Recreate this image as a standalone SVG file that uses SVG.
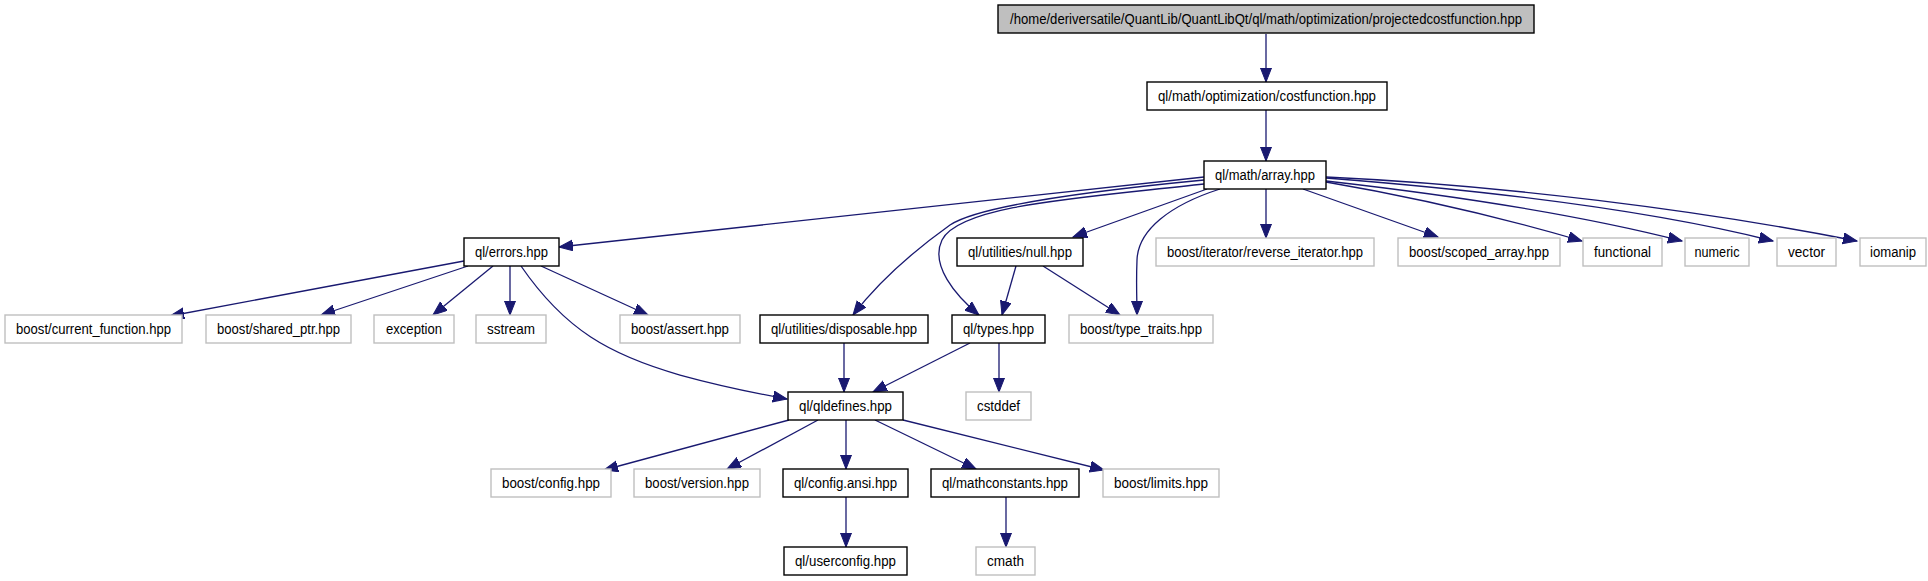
<svg xmlns="http://www.w3.org/2000/svg" width="1928" height="581" viewBox="0 0 1928 581">
<style>
.n rect{fill:#fff;stroke:#000;stroke-width:1.4}
.g rect{fill:#fff;stroke:#bfbfbf;stroke-width:1.4}
.top rect{fill:#bfbfbf;stroke:#000;stroke-width:1.4}
text{font-family:"Liberation Sans",Arial,sans-serif;font-size:14px;fill:#000;text-anchor:middle}
#edges path{fill:none;stroke:#191970;stroke-width:1.3;marker-end:url(#arr)}
</style>
<defs>
<marker id="arr" markerUnits="userSpaceOnUse" markerWidth="16" markerHeight="13" refX="14" refY="5.5" orient="auto">
<path d="M0,0 L14,5.5 L0,11 z" fill="#191970" stroke="#191970" stroke-width="1"/>
</marker>
</defs>
<rect width="1928" height="581" fill="#fff"/>
<g id="edges">
<path d="M1266,34 L1266,82"/>
<path d="M1266,110 L1266,161"/>
<path d="M1204,177 L559,247"/>
<path d="M1204,180 C1100,190 980,205 950,225 C915,250 880,280 853,315"/>
<path d="M1207,189 L1073,237"/>
<path d="M1204,184 C1080,198 960,205 942,240 C930,265 955,295 979,315"/>
<path d="M1220,189 C1170,205 1138,230 1137,260 C1136,285 1137,300 1137,315"/>
<path d="M1266,189 L1266,238"/>
<path d="M1303,189 L1438,237"/>
<path d="M1326,182 C1420,198 1510,220 1582,241"/>
<path d="M1326,181 C1450,195 1580,215 1682,241"/>
<path d="M1326,178 C1480,190 1650,210 1773,241"/>
<path d="M1326,177 C1500,185 1700,210 1857,241"/>
<path d="M464,261 L170,316"/>
<path d="M468,266 L321,315"/>
<path d="M493,266 L433,315"/>
<path d="M510,266 L510,315"/>
<path d="M541,266 L648,315"/>
<path d="M521,266 C565,330 610,355 680,375 C720,386 760,394 787,399"/>
<path d="M1016,266 L1002,315"/>
<path d="M1043,266 L1120,315"/>
<path d="M844,343 L844,392"/>
<path d="M970,343 L873,392"/>
<path d="M999,343 L999,392"/>
<path d="M789,420 L604,470"/>
<path d="M818,420 L727,469"/>
<path d="M846,420 L846,469"/>
<path d="M875,420 L976,469"/>
<path d="M903,420 L1104,470"/>
<path d="M846,497 L846,547"/>
<path d="M1006,497 L1006,547"/>
</g>
<g id="n_projectedcostfunction" class="top"><rect x="998" y="5" width="536" height="28"/><text x="1266" y="24" textLength="512" lengthAdjust="spacingAndGlyphs">/home/deriversatile/QuantLib/QuantLibQt/ql/math/optimization/projectedcostfunction.hpp</text></g>
<g id="n_costfunction" class="n"><rect x="1147" y="82" width="240" height="28"/><text x="1267" y="101" textLength="218" lengthAdjust="spacingAndGlyphs">ql/math/optimization/costfunction.hpp</text></g>
<g id="n_array" class="n"><rect x="1204" y="161" width="122" height="28"/><text x="1265" y="180" textLength="100" lengthAdjust="spacingAndGlyphs">ql/math/array.hpp</text></g>
<g id="n_errors" class="n"><rect x="464" y="238" width="95" height="28"/><text x="511.5" y="257" textLength="73" lengthAdjust="spacingAndGlyphs">ql/errors.hpp</text></g>
<g id="n_null" class="n"><rect x="957" y="238" width="126" height="28"/><text x="1020" y="257" textLength="104" lengthAdjust="spacingAndGlyphs">ql/utilities/null.hpp</text></g>
<g id="n_reverse_iterator" class="g"><rect x="1156" y="238" width="218" height="28"/><text x="1265" y="257" textLength="196" lengthAdjust="spacingAndGlyphs">boost/iterator/reverse_iterator.hpp</text></g>
<g id="n_scoped_array" class="g"><rect x="1398" y="238" width="162" height="28"/><text x="1479" y="257" textLength="140" lengthAdjust="spacingAndGlyphs">boost/scoped_array.hpp</text></g>
<g id="n_functional" class="g"><rect x="1583" y="238" width="79" height="28"/><text x="1622.5" y="257" textLength="57" lengthAdjust="spacingAndGlyphs">functional</text></g>
<g id="n_numeric" class="g"><rect x="1685" y="238" width="64" height="28"/><text x="1717" y="257" textLength="45" lengthAdjust="spacingAndGlyphs">numeric</text></g>
<g id="n_vector" class="g"><rect x="1777" y="238" width="59" height="28"/><text x="1806.5" y="257" textLength="37" lengthAdjust="spacingAndGlyphs">vector</text></g>
<g id="n_iomanip" class="g"><rect x="1860" y="238" width="66" height="28"/><text x="1893" y="257" textLength="46" lengthAdjust="spacingAndGlyphs">iomanip</text></g>
<g id="n_current_function" class="g"><rect x="5" y="315" width="177" height="28"/><text x="93.5" y="334" textLength="155" lengthAdjust="spacingAndGlyphs">boost/current_function.hpp</text></g>
<g id="n_shared_ptr" class="g"><rect x="206" y="315" width="145" height="28"/><text x="278.5" y="334" textLength="123" lengthAdjust="spacingAndGlyphs">boost/shared_ptr.hpp</text></g>
<g id="n_exception" class="g"><rect x="374" y="315" width="80" height="28"/><text x="414" y="334" textLength="56" lengthAdjust="spacingAndGlyphs">exception</text></g>
<g id="n_sstream" class="g"><rect x="476" y="315" width="70" height="28"/><text x="511" y="334" textLength="48" lengthAdjust="spacingAndGlyphs">sstream</text></g>
<g id="n_assert" class="g"><rect x="620" y="315" width="120" height="28"/><text x="680" y="334" textLength="98" lengthAdjust="spacingAndGlyphs">boost/assert.hpp</text></g>
<g id="n_disposable" class="n"><rect x="760" y="315" width="168" height="28"/><text x="844" y="334" textLength="146" lengthAdjust="spacingAndGlyphs">ql/utilities/disposable.hpp</text></g>
<g id="n_types" class="n"><rect x="952" y="315" width="93" height="28"/><text x="998.5" y="334" textLength="71" lengthAdjust="spacingAndGlyphs">ql/types.hpp</text></g>
<g id="n_type_traits" class="g"><rect x="1069" y="315" width="144" height="28"/><text x="1141" y="334" textLength="122" lengthAdjust="spacingAndGlyphs">boost/type_traits.hpp</text></g>
<g id="n_qldefines" class="n"><rect x="788" y="392" width="115" height="28"/><text x="845.5" y="411" textLength="93" lengthAdjust="spacingAndGlyphs">ql/qldefines.hpp</text></g>
<g id="n_cstddef" class="g"><rect x="966" y="392" width="65" height="28"/><text x="998.5" y="411" textLength="43" lengthAdjust="spacingAndGlyphs">cstddef</text></g>
<g id="n_config" class="g"><rect x="491" y="469" width="120" height="28"/><text x="551" y="488" textLength="98" lengthAdjust="spacingAndGlyphs">boost/config.hpp</text></g>
<g id="n_version" class="g"><rect x="634" y="469" width="126" height="28"/><text x="697" y="488" textLength="104" lengthAdjust="spacingAndGlyphs">boost/version.hpp</text></g>
<g id="n_config_ansi" class="n"><rect x="783" y="469" width="125" height="28"/><text x="845.5" y="488" textLength="103" lengthAdjust="spacingAndGlyphs">ql/config.ansi.hpp</text></g>
<g id="n_mathconstants" class="n"><rect x="931" y="469" width="148" height="28"/><text x="1005" y="488" textLength="126" lengthAdjust="spacingAndGlyphs">ql/mathconstants.hpp</text></g>
<g id="n_limits" class="g"><rect x="1103" y="469" width="116" height="28"/><text x="1161" y="488" textLength="94" lengthAdjust="spacingAndGlyphs">boost/limits.hpp</text></g>
<g id="n_userconfig" class="n"><rect x="784" y="547" width="123" height="28"/><text x="845.5" y="566" textLength="101" lengthAdjust="spacingAndGlyphs">ql/userconfig.hpp</text></g>
<g id="n_cmath" class="g"><rect x="976" y="547" width="59" height="28"/><text x="1005.5" y="566" textLength="37" lengthAdjust="spacingAndGlyphs">cmath</text></g>
</svg>
